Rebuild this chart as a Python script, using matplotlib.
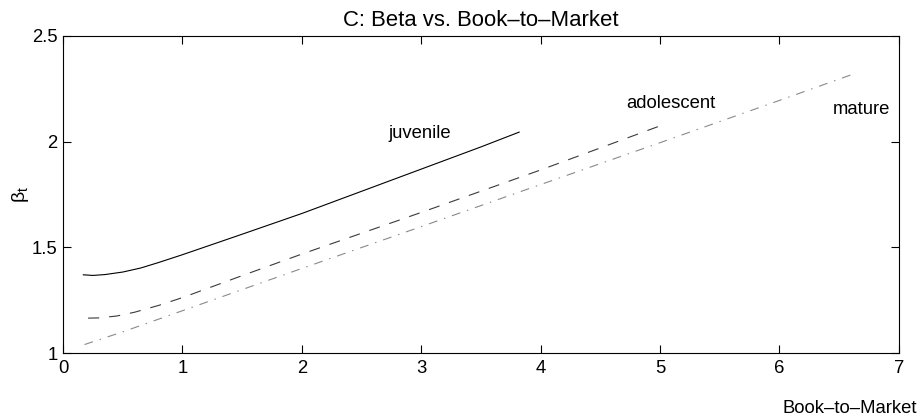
import matplotlib
matplotlib.use("Agg")
from matplotlib import pyplot as plt

plt.rcParams['font.family'] = ['Liberation Sans', 'DejaVu Sans']
plt.rcParams['font.size'] = 13.3
plt.rcParams['mathtext.default'] = 'regular'

# beta vs book-to-market for the three firm stages
juv_bm = [0.17, 0.25, 0.35, 0.5, 0.65, 0.8, 1.0, 1.5, 2.0, 2.5, 3.0, 3.5, 3.82]
juv_beta = [1.370, 1.367, 1.371, 1.383, 1.402, 1.428, 1.465, 1.562, 1.660, 1.765, 1.870, 1.975, 2.045]

ado_bm = [0.21, 0.3, 0.45, 0.6, 0.8, 1.0, 1.5, 2.0, 3.0, 4.0, 5.05]
ado_beta = [1.165, 1.166, 1.175, 1.193, 1.225, 1.262, 1.366, 1.468, 1.665, 1.866, 2.085]

mat_bm = [0.18, 0.5, 1.0, 2.0, 3.0, 4.0, 5.0, 6.0, 6.61]
mat_beta = [1.040, 1.100, 1.200, 1.400, 1.598, 1.797, 1.995, 2.195, 2.318]

xticks = [0, 1, 2, 3, 4, 5, 6, 7]
yticks = [1, 1.5, 2, 2.5]
ytick_labels = ['1', '1.5', '2', '2.5']

fig = plt.figure(figsize=(9.2, 4.18), dpi=100)
ax = fig.add_axes([0.0685, 0.1555, 0.9085, 0.7585])

ax.plot(juv_bm, juv_beta, color='black', lw=0.8)
ax.plot(ado_bm, ado_beta, color='#3a3a3a', lw=0.8, linestyle=(0, (10, 9)))
ax.plot(mat_bm, mat_beta, color='#8a8a8a', lw=0.8, linestyle=(0, (8, 6.3, 1.3, 6.3)))

ax.text(2.99, 2.04, 'juvenile', ha='center', va='center')
ax.text(5.09, 2.18, 'adolescent', ha='center', va='center')
ax.text(6.69, 2.15, 'mature', ha='center', va='center')

ax.set_xlim(0, 7)
ax.set_ylim(1, 2.5)
ax.set_xticks(xticks)
ax.set_yticks(yticks)
ax.set_yticklabels(ytick_labels)
ax.tick_params(direction='in', length=5.8, width=0.8, top=True, right=True)
ax.tick_params(axis='x', pad=5)
ax.tick_params(axis='y', pad=4)
for s in ax.spines.values():
    s.set_linewidth(0.8)

ax.set_title('C: Beta vs. Book\u2013to\u2013Market', pad=7)
ax.set_ylabel(r'$\beta_t$', fontsize=14)
ax.set_xlabel('Book\u2013to\u2013Market', ha='right', va='center')
ax.xaxis.set_label_coords(1.0215, -0.1735)
ax.yaxis.set_label_coords(-0.038, 0.5)

fig.savefig('out.png', dpi=100)
